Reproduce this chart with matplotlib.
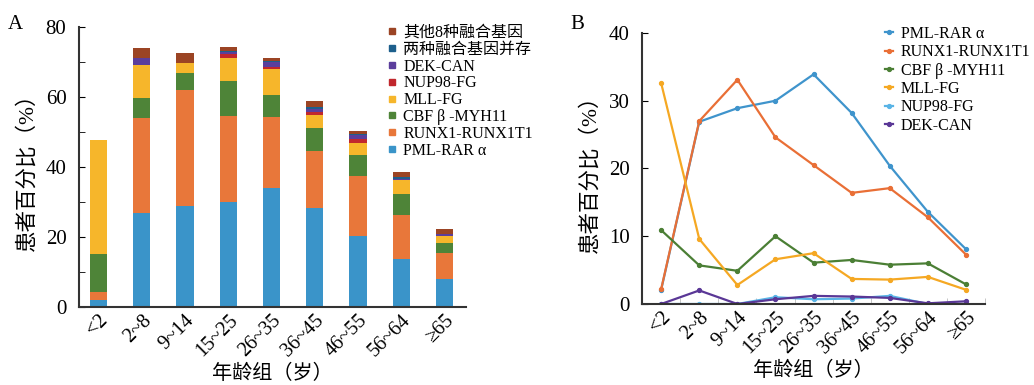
import numpy as np
import matplotlib
matplotlib.use("Agg")
import matplotlib.pyplot as plt
from matplotlib.lines import Line2D

plt.rcParams['font.family'] = ['Liberation Serif', 'Noto Sans CJK SC']

# age groups
groups = ["<2", "2~8", "9~14", "15~25", "26~35", "36~45", "46~55", "56~64", "≥65"]

# percent of patients, per fusion gene
pml = [2.1, 26.9, 28.9, 30.0, 33.9, 28.2, 20.4, 13.6, 8.1]
runx1 = [2.2, 27.0, 33.1, 24.6, 20.5, 16.4, 17.1, 12.8, 7.3]
cbfb = [10.9, 5.7, 4.9, 10.0, 6.1, 6.5, 5.8, 6.0, 2.9]
mll = [32.6, 9.6, 2.8, 6.6, 7.5, 3.7, 3.6, 4.0, 2.1]
nup98 = [0.0, 0.0, 0.0, 1.0, 0.7, 0.8, 1.2, 0.0, 0.0]
dek = [0.0, 2.0, 0.0, 0.7, 1.2, 1.1, 0.9, 0.1, 0.4]
both = [0.0, 0.0, 0.0, 0.2, 0.3, 0.3, 0.3, 0.5, 0.0]
other8 = [0.0, 2.8, 3.0, 1.2, 1.0, 1.9, 1.1, 1.6, 1.6]

names = ["PML-RAR α", "RUNX1-RUNX1T1", "CBF β -MYH11", "MLL-FG", "NUP98-FG",
         "DEK-CAN", "两种融合基因并存", "其他8种融合基因"]

bar_colors = ["#3a94c9", "#e8773a", "#4e8438", "#f6b62b", "#c1272d",
              "#5b3e9c", "#1d5f8c", "#9b4424"]
line_colors = ["#3f94cc", "#e96f36", "#4b7f35", "#f5a823", "#59b4e6", "#5a3796"]

fig = plt.figure(figsize=(10.34, 3.85), dpi=100)


def style_axes(ax):
    for s in ['top', 'right']:
        ax.spines[s].set_visible(False)
    for s in ['left', 'bottom']:
        ax.spines[s].set_linewidth(1.5)
        ax.spines[s].set_color('#333333')
    ax.set_xticks(np.arange(len(groups)))
    ax.set_xticklabels(groups, rotation=45, ha='right', rotation_mode='anchor')
    ax.tick_params(axis='x', which='major', length=0, labelsize=14.5, pad=3)
    ax.set_ylabel("患者百分比（%）", fontsize=15.5, labelpad=6)
    ax.set_xlabel("年龄组（岁）", fontsize=14.5, labelpad=3)


# ---- panel A: stacked bars
axA = fig.add_axes([0.0764, 0.2026, 0.3743, 0.7274])
x = np.arange(len(groups))
series = [pml, runx1, cbfb, mll, nup98, dek, both, other8]
bottom = np.zeros(len(groups))
handles = []
for vals, col, nm in zip(series, bar_colors, names):
    axA.bar(x, vals, 0.4, bottom=bottom, color=col, linewidth=0)
    bottom += np.array(vals)
    handles.append(Line2D([], [], marker='s', color=col, linestyle='none',
                          markersize=5, label=nm))
axA.set_xlim(-0.45, 8.5)
axA.set_ylim(0, 80)
axA.set_yticks([0, 20, 40, 60, 80])
axA.set_yticks([10, 30, 50, 70], minor=True)
axA.tick_params(axis='y', which='both', direction='in', length=4,
                labelsize=15, pad=9)
style_axes(axA)
axA.legend(handles=handles[::-1], loc='upper left', bbox_to_anchor=(0.78, 1.03),
           frameon=False, fontsize=11.5, handlelength=0.6, handletextpad=0.4,
           labelspacing=0.05, borderaxespad=0)
fig.text(0.008, 0.925, "A", fontsize=15)

# ---- panel B: lines
axB = fig.add_axes([0.621, 0.2104, 0.3316, 0.7039])
line_series = [pml, runx1, cbfb, mll, nup98, dek]
for vals, col, nm in zip(line_series, line_colors, names[:6]):
    axB.plot(x, vals, color=col, linewidth=1.6, marker='o', markersize=2.8,
             label=nm)
axB.set_xlim(-0.5, 8.5)
axB.set_ylim(0, 40)
axB.set_yticks([0, 10, 20, 30, 40])
axB.set_xticks(np.arange(-0.5, 9, 1), minor=True)
axB.tick_params(axis='y', direction='in', length=4, labelsize=15, pad=9)
axB.tick_params(axis='x', which='minor', direction='in', length=4, color='#bbbbbb')
style_axes(axB)
axB.legend(loc='upper left', bbox_to_anchor=(0.69, 1.05), frameon=False,
           fontsize=11.5, handlelength=0.5, handletextpad=0.5,
           labelspacing=0.15, borderaxespad=0)
fig.text(0.552, 0.925, "B", fontsize=15)

fig.savefig("out.png", dpi=100)
